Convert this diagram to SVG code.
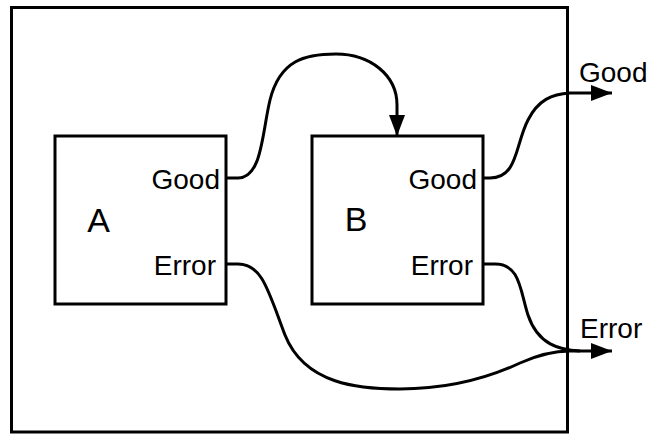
<svg xmlns="http://www.w3.org/2000/svg" width="648" height="435" viewBox="0 0 648 435">
<style>
.box{fill:none;stroke:#000;stroke-width:3}
.edge{fill:none;stroke:#000;stroke-width:3}
.lbl{font-family:"Liberation Sans",Arial,sans-serif;font-size:28px;fill:#000}
.big{font-family:"Liberation Sans",Arial,sans-serif;font-size:34px;fill:#000}
</style>
<defs>
<marker id="arr" markerWidth="22" markerHeight="16" refX="21" refY="8" orient="auto" markerUnits="userSpaceOnUse">
<path d="M0,0 L21,8 L0,16 Z" fill="#000"/>
</marker>
</defs>
<g id="outer">
<rect x="11.5" y="7.5" width="556" height="424.5" fill="none" stroke="#000" stroke-width="3"/>
<text class="lbl" x="579" y="82">Good</text>
<text class="lbl" x="580" y="338">Error</text>
</g>
<g id="A">
<rect class="box" x="55" y="136" width="171" height="168"/>
<text class="big" x="98.5" y="232" text-anchor="middle">A</text>
<text class="lbl" x="220" y="189" text-anchor="end">Good</text>
<text class="lbl" x="216" y="275" text-anchor="end">Error</text>
</g>
<g id="B">
<rect class="box" x="312" y="136" width="171" height="168"/>
<text class="big" x="356" y="231" text-anchor="middle">B</text>
<text class="lbl" x="477" y="189" text-anchor="end">Good</text>
<text class="lbl" x="473" y="275" text-anchor="end">Error</text>
</g>
<g id="connectors">
<path class="edge" marker-end="url(#arr)" d="M226,178 L238,178 C262,178 262,133 270,100 C280,60 305,54 336,54 C370,54 397,75 397,105 L397,136"/>
<path class="edge" marker-end="url(#arr)" d="M483,178 L490,178 C518,178 515,145 528,120 C538,100 552,94 570,93 L612,93"/>
<path class="edge" marker-end="url(#arr)" d="M226,264 L238,264 C262,264 268,290 285,335 C305,385 360,389 400,389 C450,389 490,377 520,363 C540,354 555,351 570,351 L612,351"/>
<path class="edge" d="M483,264 L495,264 C520,264 520,290 528,315 C538,345 560,350 580,351"/>
</g>
</svg>
